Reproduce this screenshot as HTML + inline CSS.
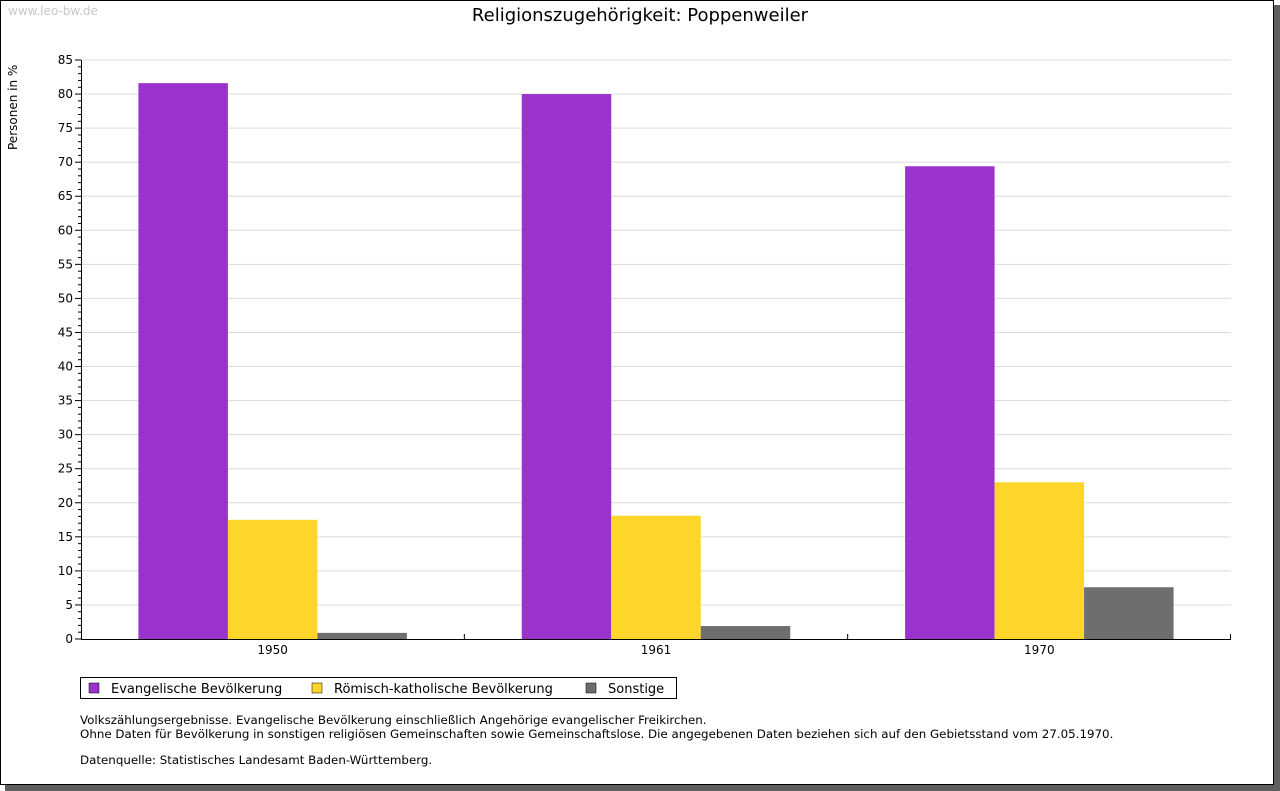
<!DOCTYPE html>
<html><head><meta charset="utf-8"><style>
body{margin:0;background:#fff;font-family:"DejaVu Sans","Liberation Sans",sans-serif;}
svg{display:block}
</style></head><body>
<svg id="c" width="1280" height="791" xmlns="http://www.w3.org/2000/svg">
<rect x="5" y="5" width="1275" height="786" fill="#606060"/>
<rect x="0.5" y="0.5" width="1273" height="784" fill="#fff" stroke="#000"/>
<text x="8" y="15" font-size="12" fill="#c8c8c8">www.leo-bw.de</text>
<text x="640" y="21" font-size="18" text-anchor="middle" fill="#000">Religionszugehörigkeit: Poppenweiler</text>
<text transform="translate(17,150) rotate(-90)" font-size="12">Personen in %</text>
<g id="grid"></g><g id="bars"></g><g id="axes"></g>
<g>
<rect x="80.5" y="677.5" width="596" height="21" fill="#fff" stroke="#000"/>
<rect x="89" y="683" width="10" height="10" fill="#9933cc" stroke="#000" stroke-width="0.5"/>
<text x="111" y="693" font-size="13">Evangelische Bevölkerung</text>
<rect x="312" y="683" width="10" height="10" fill="#fdd52b" stroke="#000" stroke-width="0.5"/>
<text x="334" y="693" font-size="13">Römisch-katholische Bevölkerung</text>
<rect x="586" y="683" width="10" height="10" fill="#6e6e6e" stroke="#000" stroke-width="0.5"/>
<text x="608" y="693" font-size="13">Sonstige</text>
</g>
<g font-size="11.85">
<text x="80" y="724">Volkszählungsergebnisse. Evangelische Bevölkerung einschließlich Angehörige evangelischer Freikirchen.</text>
<text x="80" y="738">Ohne Daten für Bevölkerung in sonstigen religiösen Gemeinschaften sowie Gemeinschaftslose. Die angegebenen Daten beziehen sich auf den Gebietsstand vom 27.05.1970.</text>
<text x="80" y="764">Datenquelle: Statistisches Landesamt Baden-Württemberg.</text>
</g>
</svg>
<script>
const categories=["1950","1961","1970"];
const evangelisch=[81.6,80.0,69.4];
const katholisch=[17.5,18.1,23.0];
const sonstige=[0.9,1.9,7.6];
const yTicks=[0,5,10,15,20,25,30,35,40,45,50,55,60,65,70,75,80,85];
const NS="http://www.w3.org/2000/svg";
const X0=81,X1=1231,Y0=639,Y1=60,YMAX=85;
const y=v=>Y0-(v/YMAX)*(Y0-Y1);
const bw=(X1-X0)/categories.length;
function mk(t,a,p){const e=document.createElementNS(NS,t);for(const k in a)e.setAttribute(k,a[k]);p.appendChild(e);return e;}
const grid=document.getElementById('grid'),bars=document.getElementById('bars'),axes=document.getElementById('axes');
yTicks.forEach(v=>{
 if(v>0){const l=mk('line',{x1:X0,x2:X1,y1:y(v),y2:y(v),stroke:'#dcdcdc'},grid);
 
 }
 const t=mk('text',{x:X0-8,y:y(v)+4,'font-size':12,'text-anchor':'end'},axes);t.textContent=v;
 
 
 mk('line',{x1:X0-6,x2:X0,y1:y(v),y2:y(v),stroke:'#000'},axes);
});
for(let v=0;v<YMAX;v++){if(v%5)mk('line',{x1:X0-3,x2:X0,y1:y(v),y2:y(v),stroke:'#000'},axes);}
const series=[[evangelisch,'#9933cc','evangelisch'],[katholisch,'#fdd52b','katholisch'],[sonstige,'#6e6e6e','sonstige']];
const barW=89.5;
categories.forEach((c,i)=>{
 const cx=X0+bw*(i+0.5);
 series.forEach(([arr,col,nm],j)=>{
  const x=cx-1.5*barW+j*barW;
  const r=mk('rect',{x:x,y:y(arr[i]),width:barW,height:Y0-y(arr[i]),fill:col},bars);
  
  
 });
 const t=mk('text',{x:cx,y:Y0+15,'font-size':12,'text-anchor':'middle'},axes);t.textContent=c;
 
 
 if(i>0)mk('line',{x1:X0+bw*i,x2:X0+bw*i,y1:Y0,y2:Y0-5,stroke:'#000'},axes);
});
mk('line',{x1:X1-0.5,x2:X1-0.5,y1:Y0,y2:Y0-5,stroke:'#000'},axes);
const ya=mk('line',{x1:X0+0.5,x2:X0+0.5,y1:Y1,y2:Y0+0.5,stroke:'#000'},axes);


const xa=mk('line',{x1:X0,x2:X1,y1:Y0+0.5,y2:Y0+0.5,stroke:'#000'},axes);


</script>
</body></html>
